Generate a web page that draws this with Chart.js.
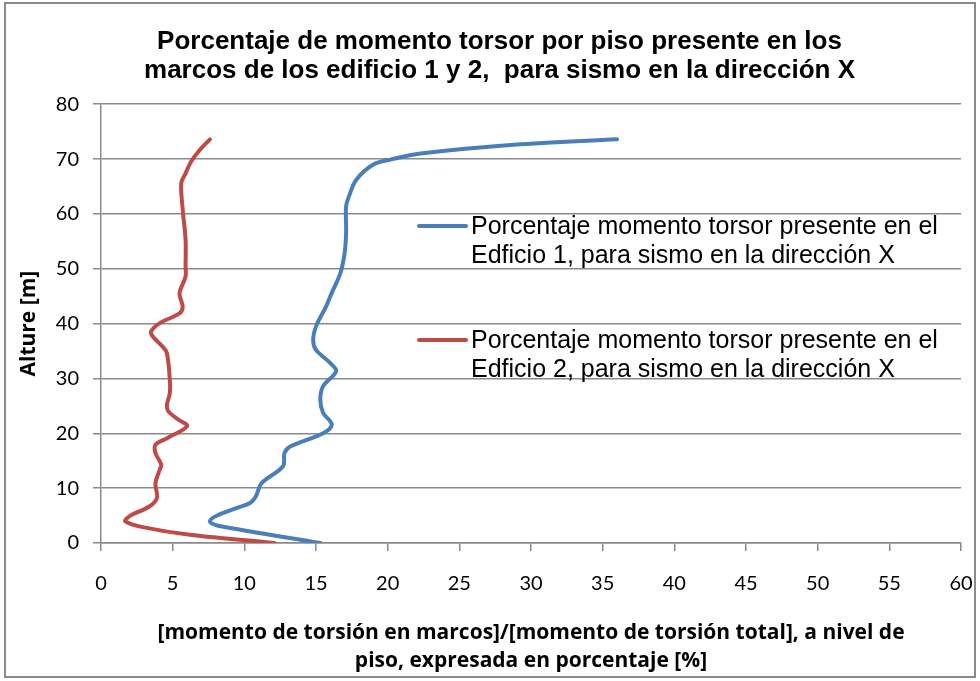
<!DOCTYPE html>
<html lang="es">
<head>
<meta charset="utf-8">
<title>Momento torsor por piso - Edificios 1 y 2</title>
<script src="https://cdn.jsdelivr.net/npm/chart.js@4.4.1/dist/chart.umd.min.js"></script>
<style>
    html, body { margin: 0; padding: 0; background: #ffffff; }
    #wrap { width: 980px; height: 681px; }
</style>
</head>
<body>
<div id="wrap"><canvas id="torsionChart" width="980" height="681"></canvas></div>
<script>
// =========================================================
// DATOS
// =========================================================

// Edificio 1: porcentaje [%] y altura [m]
const edificio1Pct = [15.3, 8.1, 7.6, 8.1, 9.5, 10.4, 10.8, 11.2, 12.7, 12.8, 13.2, 15.5, 16.1, 15.5,
    15.3, 15.5, 16.4, 16.0, 15.0, 14.8, 15.0, 15.7, 16.1, 16.7, 17.0, 17.1, 17.1, 17.3, 17.8,
    19.0, 20.2, 22.3, 28.8, 36.0];
const edificio1Alt = [0, 3.2, 3.95, 5.0, 6.4, 7.3, 8.5, 10.9, 14.0, 16.4, 17.6, 20.0, 21.6, 23.7,
    26.1, 28.6, 31.3, 32.8, 35.2, 37.1, 39.5, 43.1, 45.6, 49.2, 52.9, 56.5, 61.4, 63.2, 66.2,
    69.0, 69.9, 71.0, 72.6, 73.6];

// Edificio 2: porcentaje [%] y altura [m]
const edificio2Pct = [12.1, 6.2, 3.0, 1.7, 2.0, 3.4, 3.9, 3.8, 4.1, 4.2, 3.8, 3.8, 4.6, 6.0, 5.4,
    4.7, 4.6, 4.8, 4.8, 4.6, 4.3, 3.6, 3.5, 4.1, 5.5, 5.7, 5.5, 5.5, 5.9, 5.9, 5.9, 5.7, 5.6,
    5.9, 6.3, 6.9, 7.6];
const edificio2Alt = [0, 1.5, 2.85, 3.95, 4.9, 6.7, 8.2, 10.9, 13.4, 14.3, 16.4, 17.9, 19.1, 21.3,
    22.5, 24.0, 25.2, 27.3, 29.8, 34.6, 35.8, 37.7, 38.6, 40.1, 41.9, 43.1, 45.0, 45.9, 48.6,
    50.4, 55.3, 60.8, 65.6, 67.4, 69.6, 71.7, 73.6];

// Textos
const tituloLineas = [
    'Porcentaje de momento torsor por piso presente en los',
    'marcos de los edificio 1 y 2,  para sismo en la dirección X'
];
const leyenda1 = ['Porcentaje momento torsor presente en el', 'Edficio 1, para sismo en la dirección X'];
const leyenda2 = ['Porcentaje momento torsor presente en el', 'Edficio 2, para sismo en la dirección X'];
const tituloX = [
    '[momento de torsión en marcos]/[momento de torsión total], a nivel de',
    'piso, expresada en porcentaje [%]'
];
const tituloY = 'Alture [m]';

// Límites de los ejes
const ejeX = [0, 60, 5];   // min, max, paso
const ejeY = [0, 80, 10];

// =========================================================
// ESTILO
// =========================================================
const AZUL = '#4a7ebb';
const ROJO = '#be4b48';
const GRIS = '#8a8a8a';

const unir = (xs, ys) => xs.map((x, i) => ({ x, y: ys[i] }));

// Leyenda propia: el original tiene etiquetas de dos líneas dentro del área
const leyendaPlugin = {
    id: 'leyendaManual',
    afterDraw(chart) {
        const { ctx, chartArea } = chart;
        const x0 = chartArea.left + 318;
        const items = [
            { color: AZUL, lineas: leyenda1, y: 226 },
            { color: ROJO, lineas: leyenda2, y: 340 }
        ];
        ctx.save();
        ctx.font = '25px "Liberation Sans", Arial, sans-serif';
        ctx.textBaseline = 'middle';
        ctx.fillStyle = '#000';
        items.forEach(it => {
            ctx.strokeStyle = it.color;
            ctx.lineWidth = 4;
            ctx.lineCap = 'round';
            ctx.beginPath();
            ctx.moveTo(x0, it.y);
            ctx.lineTo(x0 + 47, it.y);
            ctx.stroke();
            it.lineas.forEach((t, i) => ctx.fillText(t, x0 + 52, it.y + 1 + i * 29));
        });
        ctx.restore();
    }
};

// Fondo blanco y marco gris exterior
const marcoPlugin = {
    id: 'marco',
    beforeDraw(chart) {
        const { ctx, width, height } = chart;
        ctx.save();
        ctx.fillStyle = '#fff';
        ctx.fillRect(0, 0, width, height);
        ctx.strokeStyle = GRIS;
        ctx.lineWidth = 2;
        ctx.strokeRect(5, 3, 970, 674);
        ctx.restore();
    }
};

const ctx = document.getElementById('torsionChart').getContext('2d');

new Chart(ctx, {
    type: 'scatter',
    data: {
        datasets: [
            {
                label: leyenda1.join(' '),
                data: unir(edificio1Pct, edificio1Alt),
                showLine: true,
                borderColor: AZUL,
                backgroundColor: AZUL,
                borderWidth: 4,
                pointRadius: 0,
                tension: 0.35,
                borderCapStyle: 'round'
            },
            {
                label: leyenda2.join(' '),
                data: unir(edificio2Pct, edificio2Alt),
                showLine: true,
                borderColor: ROJO,
                backgroundColor: ROJO,
                borderWidth: 4,
                pointRadius: 0,
                tension: 0.35,
                borderCapStyle: 'round'
            }
        ]
    },
    options: {
        responsive: false,
        animation: false,
        layout: { padding: { left: 38, right: 19, top: 0, bottom: 4 } },
        plugins: {
            legend: { display: false },
            tooltip: { enabled: false },
            title: {
                display: true,
                text: tituloLineas,
                color: '#000',
                font: { family: '"Liberation Sans", Arial, sans-serif', size: 26, weight: 'bold', lineHeight: 1.12 },
                padding: { top: 27, bottom: 19 }
            }
        },
        scales: {
            x: {
                type: 'linear',
                min: ejeX[0],
                max: ejeX[1],
                // alto fijo y sin relleno extra por las etiquetas de los extremos
                afterFit: (scale) => {
                    scale.height = 134;
                    scale.paddingLeft = 0;
                    scale.paddingRight = 0;
                },
                ticks: {
                    stepSize: ejeX[2],
                    padding: 21,
                    color: '#000',
                    font: { family: 'Lato, "Open Sans", sans-serif', size: 20, lineHeight: 1.2 }
                },
                grid: { drawOnChartArea: false, drawTicks: true, tickLength: 8, color: GRIS, lineWidth: 1.5 },
                border: { display: true, color: GRIS, width: 1.5 },
                title: {
                    display: true,
                    text: tituloX,
                    color: '#000',
                    font: { family: '"Open Sans", sans-serif', size: 21, weight: 'bold', lineHeight: 1.333 },
                    padding: { top: 0, bottom: 2 }
                }
            },
            y: {
                type: 'linear',
                min: ejeY[0],
                max: ejeY[1],
                afterFit: (scale) => { scale.width = 63; },
                ticks: {
                    stepSize: ejeY[2],
                    padding: 14,
                    color: '#000',
                    font: { family: 'Lato, "Open Sans", sans-serif', size: 20 }
                },
                grid: { color: GRIS, lineWidth: 1.5, tickLength: 8 },
                border: { display: true, color: GRIS, width: 1.5 },
                title: {
                    display: true,
                    text: tituloY,
                    color: '#000',
                    font: { family: '"Open Sans", sans-serif', size: 21, weight: 'bold', lineHeight: 1.2 },
                    padding: { top: -22, bottom: 0 }
                }
            }
        }
    },
    plugins: [marcoPlugin, leyendaPlugin]
});
</script>
</body>
</html>
